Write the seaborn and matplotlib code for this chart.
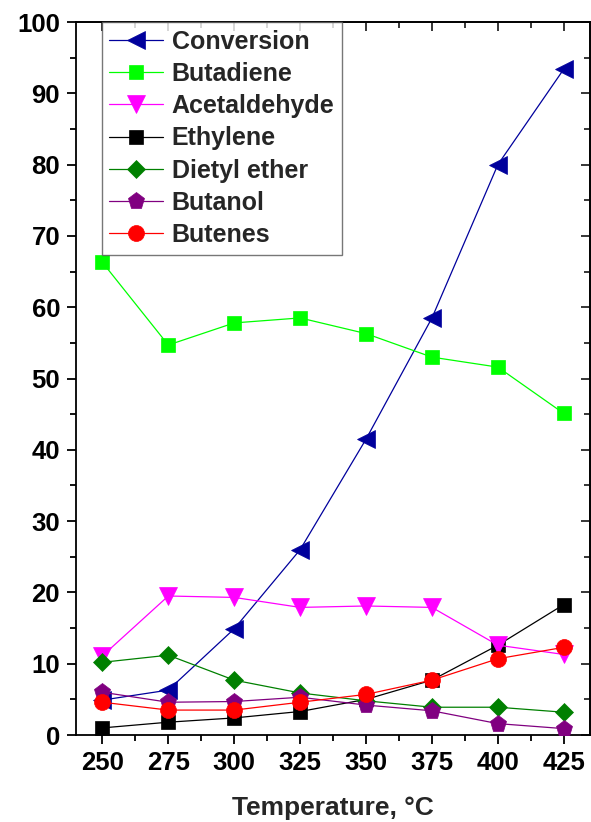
import matplotlib
matplotlib.use("Agg")
import matplotlib.pyplot as plt
from matplotlib.ticker import MultipleLocator
import seaborn as sns
import pandas as pd

temperature = [250, 275, 300, 325, 350, 375, 400, 425]
conversion = [4.9, 6.3, 14.9, 26.0, 41.5, 58.5, 80.0, 93.4]
butadiene = [66.3, 54.7, 57.8, 58.5, 56.3, 53.0, 51.6, 45.1]
acetaldehyde = [11.1, 19.5, 19.3, 17.9, 18.1, 17.9, 12.6, 11.3]
ethylene = [1.0, 1.8, 2.4, 3.3, 5.0, 7.7, 12.6, 18.3]
diethyl_ether = [10.2, 11.2, 7.7, 5.9, 4.8, 3.9, 3.9, 3.2]
butanol = [6.0, 4.6, 4.7, 5.3, 4.2, 3.4, 1.6, 0.9]
butenes = [4.6, 3.5, 3.5, 4.6, 5.7, 7.7, 10.7, 12.3]

series = [
    ("Conversion", conversion, "#00009C", "<", 12.5, 3),
    ("Butadiene", butadiene, "#00FF00", "s", 10, 3),
    ("Acetaldehyde", acetaldehyde, "#FF00FF", "v", 12.5, 5),
    ("Ethylene", ethylene, "#000000", "s", 10, 4),
    ("Dietyl ether", diethyl_ether, "#008000", "D", 9.5, 6),
    ("Butanol", butanol, "#800080", "p", 12.5, 7),
    ("Butenes", butenes, "#FF0000", "o", 11.5, 8),
]

sns.set_style("ticks")
plt.rcParams["font.family"] = ["Liberation Sans", "DejaVu Sans"]
plt.rcParams["font.weight"] = "bold"

fig = plt.figure(figsize=(5.91, 8.22), dpi=100)
ax = fig.add_axes([0.1286, 0.1058, 0.8700, 0.8674])

for name, values, color, marker, size, z in series:
    df = pd.DataFrame({"T": temperature, "v": values})
    sns.lineplot(data=df, x="T", y="v", ax=ax, color=color, marker=marker,
                 markersize=size, markeredgecolor=color, markeredgewidth=0.5,
                 linewidth=0.9, label=name, zorder=z)

ax.set_xlim(240, 435)
ax.set_ylim(0, 100)
ax.xaxis.set_major_locator(MultipleLocator(25))
ax.xaxis.set_minor_locator(MultipleLocator(12.5))
ax.yaxis.set_major_locator(MultipleLocator(10))
ax.yaxis.set_minor_locator(MultipleLocator(5))

for side in ["left", "right", "top", "bottom"]:
    ax.spines[side].set_visible(True)
    ax.spines[side].set_linewidth(1.3)
    ax.spines[side].set_color("black")

ax.tick_params(axis="both", which="major", length=6.5, width=1.3,
               labelsize=18.5, pad=5, colors="black")
ax.tick_params(axis="both", which="minor", length=4, width=1.3, colors="black")
ax.tick_params(axis="x", which="both", direction="out", top=False)
ax.tick_params(axis="y", which="both", direction="out", right=False)

# inward ticks on the top and right edges
top = ax.secondary_xaxis("top")
top.set_xticks(temperature)
top.xaxis.set_minor_locator(MultipleLocator(12.5))
top.tick_params(which="both", direction="in", labeltop=False, width=1.3)
top.tick_params(which="major", length=6.5)
top.tick_params(which="minor", length=4)
top.spines["top"].set_linewidth(1.3)
right = ax.secondary_yaxis("right")
right.yaxis.set_major_locator(MultipleLocator(10))
right.yaxis.set_minor_locator(MultipleLocator(5))
right.tick_params(which="both", direction="in", labelright=False, width=1.3)
right.tick_params(which="major", length=6.5)
right.tick_params(which="minor", length=4)
right.spines["right"].set_linewidth(1.3)

for lbl in ax.get_xticklabels() + ax.get_yticklabels():
    lbl.set_fontweight("bold")

ax.set_xlabel("Temperature, °C", fontsize=19, fontweight="bold", labelpad=15)
ax.set_ylabel("")

leg = ax.legend(loc="upper left", bbox_to_anchor=(0.05, 1.0), frameon=True,
                fancybox=False, edgecolor="#555555", fontsize=18,
                handlelength=2.15, handletextpad=0.35, labelspacing=0.33,
                borderpad=0.3, borderaxespad=0.0)
leg.get_frame().set_linewidth(1.0)
for t in leg.get_texts():
    t.set_fontweight("bold")

fig.savefig("out.png", dpi=100)
